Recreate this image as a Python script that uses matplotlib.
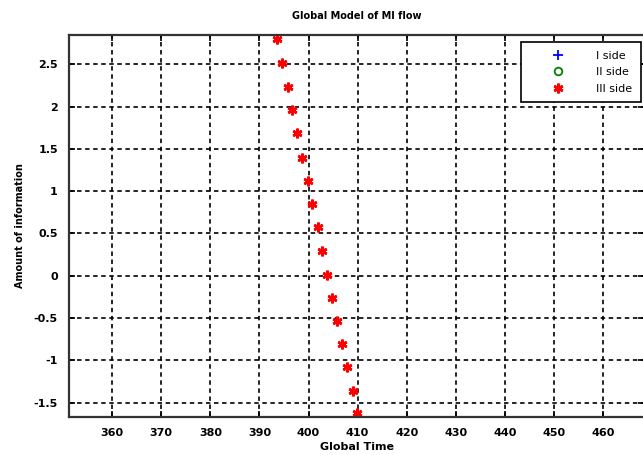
import matplotlib
matplotlib.use("Agg")
import matplotlib.pyplot as plt

# Data
side1_x = []
side1_y = []
side2_x = []
side2_y = []
side3_x = [393.6, 394.6, 395.8, 396.6, 397.7, 398.6, 399.8, 400.7, 401.9,
           402.8, 403.8, 404.8, 405.9, 406.9, 407.9, 409.0, 409.9]
side3_y = [2.80, 2.51, 2.235, 1.96, 1.684, 1.396, 1.124, 0.849, 0.573,
           0.293, 0.009, -0.259, -0.531, -0.810, -1.074, -1.362, -1.625]

xticks = [360, 370, 380, 390, 400, 410, 420, 430, 440, 450, 460]
yticks = [-1.5, -1, -0.5, 0, 0.5, 1, 1.5, 2, 2.5]
ytick_labels = ["-1.5", "-1", "-0.5", "0", "0.5", "1", "1.5", "2", "2.5"]

plt.rcParams['lines.scale_dashes'] = False
fig = plt.figure(figsize=(6.43, 4.55), dpi=100)
ax = fig.add_axes([69/643, 1 - 417/455, 1 - 69/643 + 0.002, (417 - 34.7)/455])

ax.plot(side1_x, side1_y, linestyle='none', marker='+', color='blue',
        markersize=7, markeredgewidth=1.3, label='I side')
ax.plot(side2_x, side2_y, linestyle='none', marker='o', color='green',
        markerfacecolor='none', markersize=5.5, markeredgewidth=1.3, label='II side')
ax.plot(side3_x, side3_y, linestyle='none', marker=(6, 2, 0), color='red',
        markersize=7, markeredgewidth=1.9, label='III side')

ax.set_xlim(351.2, 468.4)
ax.set_ylim(-1.67, 2.85)
ax.set_xticks(xticks)
ax.set_yticks(yticks)
ax.set_yticklabels(ytick_labels)

ax.grid(True, color='black', linestyle=(0, (3.2, 2.6)), linewidth=1.2)
ax.set_axisbelow(True)
for s in ax.spines.values():
    s.set_color('#333333')
    s.set_linewidth(1.6)
ax.tick_params(direction='in', top=True, right=True, length=4, width=1.2,
               labelsize=8, pad=8)
for lab in ax.get_xticklabels() + ax.get_yticklabels():
    lab.set_fontweight('bold')

ax.set_title('Global Model of MI flow', fontsize=7, fontweight='bold', pad=11)
ax.set_xlabel('Global Time', fontsize=8, fontweight='bold', labelpad=3)
ax.set_ylabel('Amount of information', fontsize=7, fontweight='bold', labelpad=6)

leg = ax.legend(loc='upper right', bbox_to_anchor=(640.7/643, 1 - 42.3/455),
                bbox_transform=fig.transFigure, borderaxespad=0,
                fontsize=8, frameon=True, fancybox=False, edgecolor='black',
                borderpad=0.75, handletextpad=0.8, labelspacing=0.6,
                handlelength=5.2)
leg.get_frame().set_linewidth(1.2)
leg.get_frame().set_alpha(1)

fig.savefig('out.png', dpi=100)
